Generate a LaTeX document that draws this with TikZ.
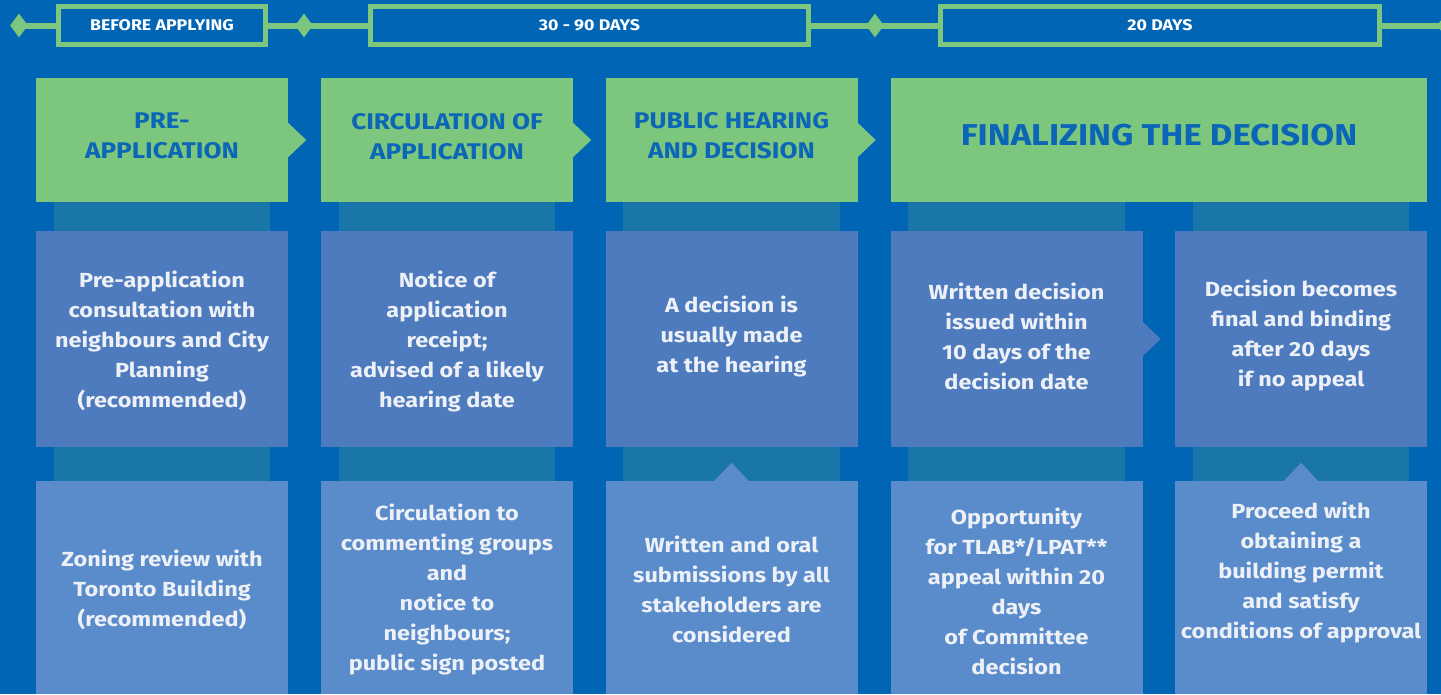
\documentclass[tikz,border=0pt]{standalone}
\usepackage{fontspec}
\setmainfont{Fira Sans}[FakeStretch=1.15]
\usetikzlibrary{calc,shapes.geometric}
\definecolor{bgblue}{RGB}{0,101,180}
\definecolor{lgreen}{RGB}{125,198,125}
\definecolor{linkteal}{RGB}{26,117,168}
\definecolor{midblue}{RGB}{78,123,189}
\definecolor{lowblue}{RGB}{90,140,203}
\definecolor{hdtext}{RGB}{11,102,184}
\definecolor{boxtext}{RGB}{237,241,247}
\begin{document}
\begin{tikzpicture}[x=0.75pt,y=0.75pt,yscale=-1,xscale=1,
    tagbox/.style={draw=lgreen,line width=3.75pt,fill=bgblue,inner sep=0pt,minimum height=28.5pt},
    knot/.style={diamond,fill=lgreen,inner sep=0pt,minimum width=13.5pt,minimum height=18pt},
    stagebox/.style={fill=lgreen,inner sep=0pt,minimum width=189pt,minimum height=93pt},
    midbox/.style={fill=midblue,inner sep=0pt,minimum width=189pt,minimum height=162pt},
    lowbox/.style={fill=lowblue,inner sep=0pt,minimum width=189pt,minimum height=159.75pt},
    tagtxt/.style={text=white,font=\bfseries\fontsize{11.6}{13}\selectfont,inner sep=0.75pt},
    hdtxt/.style={text=hdtext,font=\bfseries\fontsize{17}{22.5}\selectfont,align=center,inner sep=0.75pt},
    bodytxt/.style={text=boxtext,font=\bfseries\fontsize{15.3}{22.5}\selectfont,align=center,inner sep=0.75pt}]
    \useasboundingbox (0,0) rectangle (1441,694);
    \fill[bgblue] (0,0) rectangle (1441,694);

    %Timeline
    \node[knot] (kA) at (19,25.5) {};
    \node[knot] (kB) at (304,25.5) {};
    \node[knot] (kC) at (875,25.5) {};
    \node[knot] (kD) at (1446,25.5) {};
    \draw[lgreen,line width=4.5pt] (kA.center) -- (kD.center);
    \node[tagbox,minimum width=155.25pt] (tA) at (162,25.5) {};
    \node[tagbox,minimum width=328.5pt] (tB) at (589.5,25.5) {};
    \node[tagbox,minimum width=329.25pt] (tC) at (1160,25.5) {};
    % Text Node
    \node[tagtxt] (ttA) at (tA.center) {BEFORE APPLYING};
    \node[tagtxt] (ttB) at (tB.center) {30 - 90 DAYS};
    \node[tagtxt] (ttC) at (tC.center) {20 DAYS};

    %Shape: stage headers
    \node[stagebox] (hdA) at (162,140) {};
    \node[stagebox] (hdB) at (447,140) {};
    \node[stagebox] (hdC) at (731.5,140) {};
    \node[stagebox,minimum width=402pt] (hdD) at (1159,140) {};
    \foreach \h in {hdA,hdB,hdC}
      \fill[lgreen] ($(\h.east)+(-1,-18)$) -- ($(\h.east)+(18,0)$) -- ($(\h.east)+(-1,18)$) -- cycle;

    %Shape: step boxes
    \node[midbox] (midA) at (162,339) {};
    \node[midbox] (midB) at (447,339) {};
    \node[midbox] (midC) at (731.5,339) {};
    \node[midbox] (midD) at (1016.5,339) {};
    \node[midbox] (midE) at (1301,339) {};
    \fill[midblue] ($(midD.east)+(-1,-18)$) -- ($(midD.east)+(18,0)$) -- ($(midD.east)+(-1,18)$) -- cycle;

    \node[lowbox] (lowA) at (162,587.5) {};
    \node[lowbox] (lowB) at (447,587.5) {};
    \node[lowbox] (lowC) at (731.5,587.5) {};
    \node[lowbox] (lowD) at (1016.5,587.5) {};
    \node[lowbox] (lowE) at (1301,587.5) {};

    %Shape: links between rows
    \foreach \c in {A,B,C,D,E}{
      \fill[linkteal] ($(mid\c.north west)+(18,-29)$) rectangle ($(mid\c.north east)+(-18,0)$);
      \fill[linkteal] ($(mid\c.south west)+(18,0)$) rectangle ($(low\c.north east)+(-18,0)$);
    }
    \foreach \l in {lowC,lowE}
      \fill[lowblue] ($(\l.north)+(-18,1)$) -- ($(\l.north)+(0,-18)$) -- ($(\l.north)+(18,1)$) -- cycle;

    % Text Node
    \node[hdtxt] (hA) at (162,136) {PRE-\\APPLICATION};
    \node[hdtxt] (hB) at (447,137) {CIRCULATION OF\\APPLICATION};
    \node[hdtxt] (hC) at (731.5,136) {PUBLIC HEARING\\AND DECISION};
    \node[hdtxt,font=\bfseries\fontsize{22.6}{26}\selectfont] (hD) at (1159,135) {FINALIZING THE DECISION};

    % Text Node
    \node[bodytxt] (bA) at (162,341) {Pre-application\\consultation with\\neighbours and City\\Planning\\(recommended)};
    \node[bodytxt] (bB) at (447,341) {Notice of\\application\\receipt;\\advised of a likely\\hearing date};
    \node[bodytxt] (bC) at (731.5,336) {A decision is\\usually made\\at the hearing};
    \node[bodytxt] (bD) at (1016.5,336) {Written decision\\issued within\\10 days of the\\decision date};
    \node[bodytxt] (bE) at (1301,335) {Decision becomes\\final and binding\\after 20 days\\if no appeal};

    % Text Node
    \node[bodytxt] (cA) at (162,590) {Zoning review with\\Toronto Building\\(recommended)};
    \node[bodytxt] (cB) at (447,589) {Circulation to\\commenting groups\\and\\notice to\\neighbours;\\public sign posted};
    \node[bodytxt] (cC) at (731.5,589) {Written and oral\\submissions by all\\stakeholders are\\considered};
    \node[bodytxt] (cD) at (1016.5,591) {Opportunity\\for TLAB*/LPAT**\\appeal within 20\\days\\of Committee\\decision};
    \node[bodytxt] (cE) at (1301,572) {Proceed with\\obtaining a\\building permit\\and satisfy\\conditions of approval};
\end{tikzpicture}
\end{document}
